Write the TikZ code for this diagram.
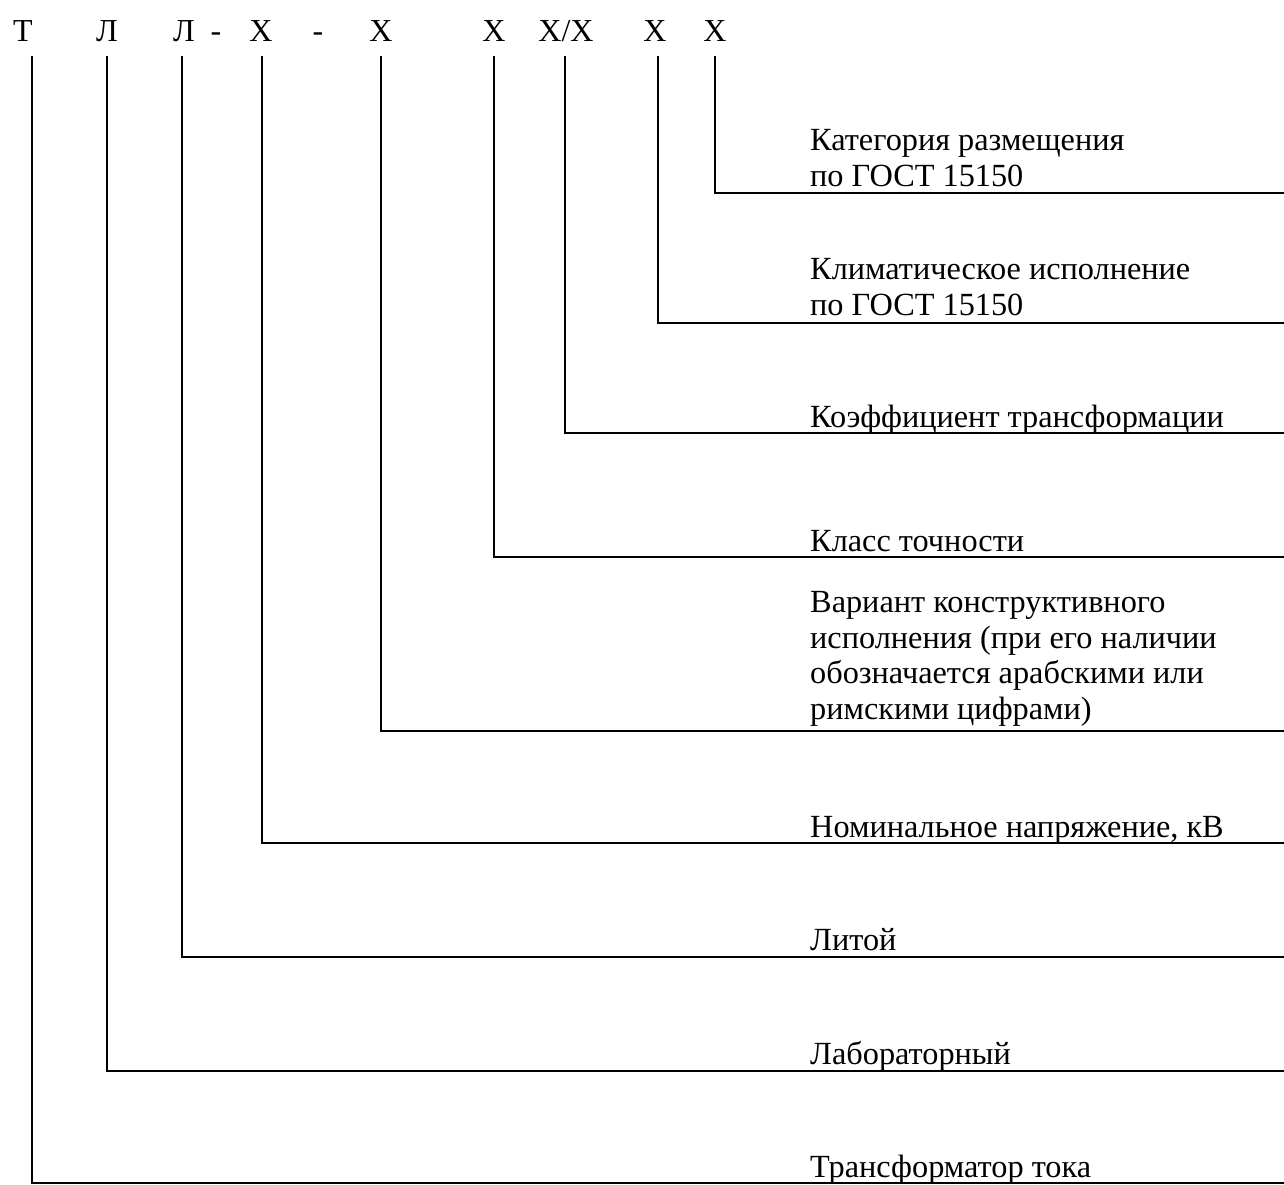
\documentclass[tikz,border=0pt]{standalone}
\usepackage{fontspec}
\setmainfont{Liberation Serif}
\begin{document}
\begin{tikzpicture}[x=1pt,y=-1pt,
  code/.style={font=\fontsize{32}{35}\selectfont, anchor=base, inner sep=0pt},
  lbl/.style={font=\fontsize{32.3}{35.5}\selectfont, anchor=base west, inner sep=0pt, align=left},
  conn/.style={line width=1.3pt}]
\useasboundingbox (0,0) rectangle (1284,1185);
% code letters
\node[code] (cT) at (23,42) {Т};
\node[code] (cL1) at (107,42) {Л};
\node[code] (cL2) at (184,42) {Л};
\node[code] (d1) at (216,42) {-};
\node[code] (cV) at (261,42) {Х};
\node[code] (d2) at (318,42) {-};
\node[code] (cVar) at (381,42) {Х};
\node[code] (cCls) at (494,42) {Х};
\node[code] (cK) at (566,42) {Х/Х};
\node[code] (cClim) at (655,42) {Х};
\node[code] (cCat) at (715,42) {Х};
% labels (base = baseline of last line)
\node[lbl] (lCat) at (810,186) {Категория размещения\\по ГОСТ 15150};
\node[lbl] (lClim) at (810,315) {Климатическое исполнение\\по ГОСТ 15150};
\node[lbl] (lK) at (810,427) {Коэффициент трансформации};
\node[lbl] (lCls) at (810,551) {Класс точности};
\node[lbl] (lVar) at (810,719) {Вариант конструктивного\\исполнения (при его наличии\\обозначается арабскими или\\римскими цифрами)};
\node[lbl] (lV) at (810,837) {Номинальное напряжение, кВ};
\node[lbl] (lL2) at (810,950) {Литой};
\node[lbl] (lL1) at (810,1064) {Лабораторный};
\node[lbl] (lT) at (810,1177) {Трансформатор тока};
% line ends at right edge
\coordinate (eCat) at (1284,193);
\coordinate (eClim) at (1284,323);
\coordinate (eK) at (1284,433);
\coordinate (eCls) at (1284,557);
\coordinate (eVar) at (1284,731);
\coordinate (eV) at (1284,843);
\coordinate (eL2) at (1284,957);
\coordinate (eL1) at (1284,1071);
\coordinate (eT) at (1284,1183);
% connectors
\draw[conn] ([shift={(0,14)}]cCat.base) |- (eCat);
\draw[conn] ([shift={(3,14)}]cClim.base) |- (eClim);
\draw[conn] ([shift={(-1,14)}]cK.base) |- (eK);
\draw[conn] ([shift={(0,14)}]cCls.base) |- (eCls);
\draw[conn] ([shift={(0,14)}]cVar.base) |- (eVar);
\draw[conn] ([shift={(1,14)}]cV.base) |- (eV);
\draw[conn] ([shift={(-2,14)}]cL2.base) |- (eL2);
\draw[conn] ([shift={(0,14)}]cL1.base) |- (eL1);
\draw[conn] ([shift={(9,14)}]cT.base) |- (eT);
\end{tikzpicture}
\end{document}
